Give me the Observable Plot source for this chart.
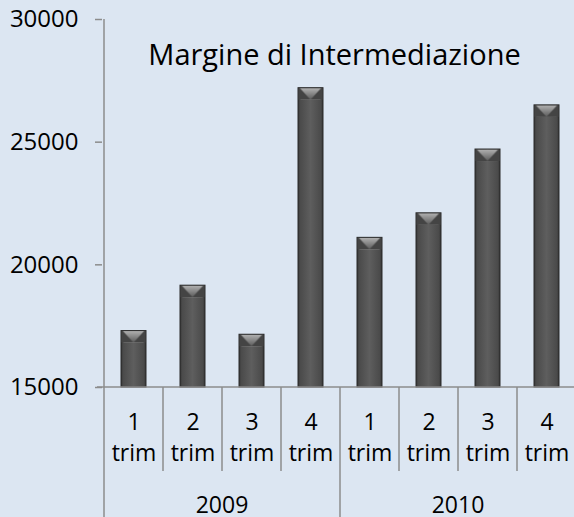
<!DOCTYPE html>
<html><head><meta charset="utf-8">
<script src="https://cdn.jsdelivr.net/npm/d3@7"></script>
<script src="https://cdn.jsdelivr.net/npm/@observablehq/plot@0.6"></script>
<style>
html,body{margin:0;padding:0;background:#dce6f2;overflow:hidden;width:574px;height:517px}
#chart svg{display:block;max-width:none !important;width:580px !important;height:517px !important}
</style></head><body><div id="chart"></div>
<script>
const years = ["2009","2009","2009","2009","2010","2010","2010","2010"];
const quarters = ["1","2","3","4","1","2","3","4"];
const values = [17300,19150,17150,27200,21100,22100,24700,26500];
const yTicks = [15000,20000,25000,30000];
const title = "Margine di Intermediazione";
const qSuffix = "trim";

const data = values.map((v,i)=>({key: years[i]+"-"+quarters[i], year: years[i], q: quarters[i], v}));
const keys = data.map(d=>d.key);
const base = yTicks[0];
const AX = "#8c8c8c";

function defsMark() {
  const d = d3.create("svg:defs");
  const lg = d.append("linearGradient").attr("id","barGrad").attr("x1",0).attr("x2",1).attr("y1",0).attr("y2",0);
  [[0,"#333"],[0.08,"#4a4a4a"],[0.5,"#5e5e5e"],[0.92,"#4a4a4a"],[1,"#333"]].forEach(([o,c])=>lg.append("stop").attr("offset",o).attr("stop-color",c));
  const cg = d.append("linearGradient").attr("id","capGrad").attr("x1",0).attr("x2",0).attr("y1",0).attr("y2",1);
  [[0,"#b0b0b0"],[1,"#5a5a5a"]].forEach(([o,c])=>cg.append("stop").attr("offset",o).attr("stop-color",c));
  const p = d.append("pattern").attr("id","capPat").attr("patternUnits","objectBoundingBox").attr("patternContentUnits","objectBoundingBox").attr("width",1).attr("height",1);
  p.append("rect").attr("width",1).attr("height",1).attr("fill","#444");
  p.append("polygon").attr("points","0.06,0 0.94,0 0.5,1").attr("fill","url(#capGrad)");
  return d.node();
}

function decoMark(index, scales, vals, dims) {
  const x = scales.x, y = scales.y;
  const bw = x.bandwidth();
  const g = d3.create("svg:g");
  const lines = g.append("g").attr("stroke",AX).attr("stroke-width",1.5).attr("fill","none");
  const y0 = y(base), yTop = y(yTicks[yTicks.length-1]);
  const left = x(keys[0]);
  lines.append("line").attr("x1",left).attr("x2",left).attr("y1",yTop).attr("y2",dims.height);
  lines.append("line").attr("x1",left-7).attr("x2",dims.width).attr("y1",y0).attr("y2",y0);
  keys.forEach((k,i)=>{
    if (i===0) return;
    const xx = x(k);
    const long = years[i]!==years[i-1];
    lines.append("line").attr("x1",xx).attr("x2",xx).attr("y1",y0).attr("y2",long?dims.height:y0+84);
  });
  const xr = x(keys[keys.length-1])+bw;
  lines.append("line").attr("x1",xr).attr("x2",xr).attr("y1",y0).attr("y2",dims.height);
  const uy = Array.from(new Set(years));
  uy.forEach(yr=>{
    const ks = keys.filter((k,i)=>years[i]===yr);
    const cx = (x(ks[0]) + x(ks[ks.length-1]) + bw)/2;
    g.append("text").attr("x",cx).attr("y",y0+126).attr("text-anchor","middle").attr("fill","black").attr("font-size",23).text(yr);
  });
  return g.node();
}

const chart = Plot.plot({
  width: 580, height: 517,
  marginLeft: 102, marginRight: 2, marginTop: 19, marginBottom: 130,
  style: {background: "#dce6f2", fontFamily: "'Open Sans', sans-serif", fontSize: "23px", color: "black"},
  x: {type: "band", domain: keys, padding: 0, label: null},
  y: {domain: [yTicks[0], yTicks[yTicks.length-1]], label: null},
  marks: [
    defsMark,
    Plot.barY(data, {x: "key", y1: () => base, y2: "v", fill: "url(#barGrad)", stroke: "#2a2a2a", strokeWidth: 1, insetLeft: 17, insetRight: 17}),
    Plot.barY(data, {x: "key", y1: "v", y2: "v", fill: "url(#capPat)", insetLeft: 17.5, insetRight: 17.5, insetTop: 0.5, insetBottom: -12}),
    Plot.axisY({ticks: yTicks, tickSize: 7, tickPadding: 17, tickFormat: d => String(d), stroke: AX, strokeWidth: 1.5, fill: "black", fontSize: 24, label: null}),
    Plot.axisX({tickSize: 0, tickPadding: 21, tickFormat: k => quarters[keys.indexOf(k)] + "\n" + qSuffix, lineHeight: 1.33, fill: "black", fontSize: 23, label: null}),
    decoMark,
    Plot.text([title], {text: d => d, frameAnchor: "top", dy: 25, dx: -6, fontSize: 29, fill: "black"})
  ]
});
document.getElementById("chart").appendChild(chart);
</script></body></html>
